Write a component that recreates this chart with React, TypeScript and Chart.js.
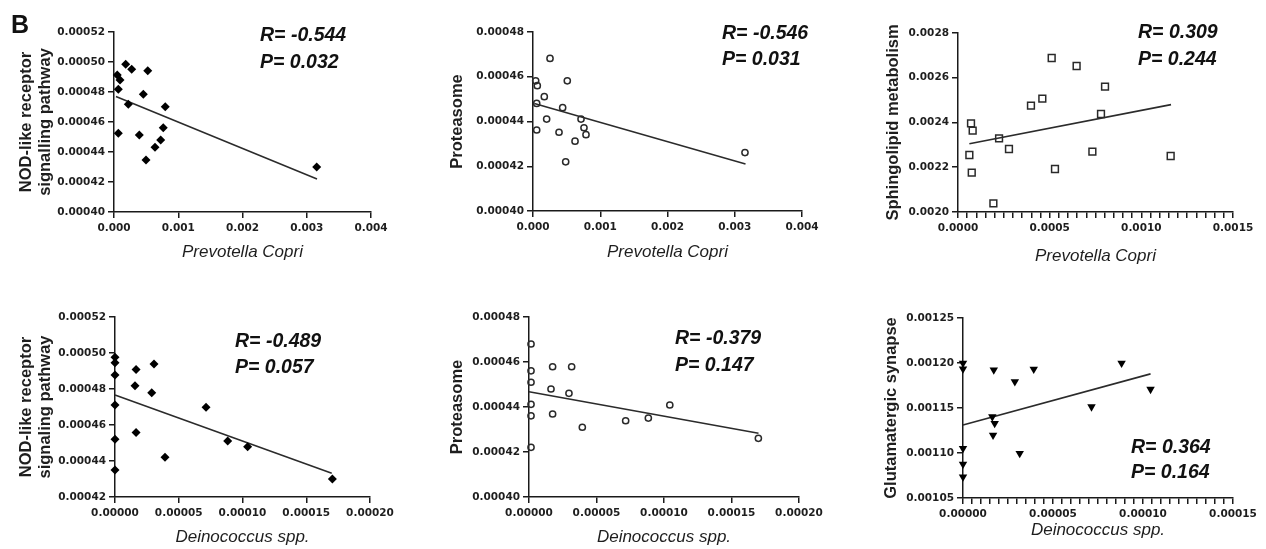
import React, { useEffect, useRef } from 'react';
import { Chart, registerables } from 'chart.js';

Chart.register(...registerables);

// ---------------- DATA ----------------
// Panel 1: Prevotella copri vs NOD-like receptor signalling pathway
const PC_NOD_X = [0.000051, 0.000093, 0.000067, 0.000182, 0.000275, 0.000525, 0.000456, 0.000223, 0.000798, 0.000067, 0.000394, 0.000767, 0.000727, 0.000638, 0.000498, 0.003155];
const PC_NOD_Y = [0.0004913, 0.000488, 0.0004818, 0.0004985, 0.0004951, 0.0004942, 0.0004785, 0.0004718, 0.0004702, 0.0004525, 0.0004513, 0.0004562, 0.000448, 0.0004431, 0.0004347, 0.00043];
const PC_NOD_FIT_X = [0.00003, 0.00316];
const PC_NOD_FIT_Y = [0.000477, 0.000422];
const PC_NOD_X_TICKS = ['0.000', '0.001', '0.002', '0.003', '0.004'];
const PC_NOD_Y_TICKS = ['0.00040', '0.00042', '0.00044', '0.00046', '0.00048', '0.00050', '0.00052'];

// Panel 2: Prevotella copri vs Proteasome
const PC_PROT_X = [0.000253, 0.00004, 0.000064, 0.00051, 0.000168, 0.000055, 0.000441, 0.000203, 0.000714, 0.000758, 0.000788, 0.000055, 0.000387, 0.000625, 0.000486, 0.003152];
const PC_PROT_Y = [0.0004682, 0.0004582, 0.000456, 0.0004582, 0.0004511, 0.0004481, 0.0004462, 0.0004411, 0.0004411, 0.0004372, 0.0004341, 0.0004362, 0.0004352, 0.0004312, 0.000422, 0.0004261];
const PC_PROT_FIT_X = [0.00002, 0.00316];
const PC_PROT_FIT_Y = [0.000448, 0.000421];
const PC_PROT_X_TICKS = ['0.000', '0.001', '0.002', '0.003', '0.004'];
const PC_PROT_Y_TICKS = ['0.00040', '0.00042', '0.00044', '0.00046', '0.00048'];

// Panel 3: Prevotella copri vs Sphingolipid metabolism
const PC_SPH_X = [0.000071, 0.00008, 0.000062, 0.000075, 0.000193, 0.000224, 0.000278, 0.000398, 0.00046, 0.000511, 0.000529, 0.000647, 0.000802, 0.00078, 0.000733, 0.00116];
const PC_SPH_Y = [0.0023964, 0.0023634, 0.0022547, 0.0021757, 0.0020389, 0.0023294, 0.0022816, 0.0024751, 0.0025064, 0.0026883, 0.0021922, 0.0026525, 0.00256, 0.002438, 0.00227, 0.0022503];
const PC_SPH_FIT_X = [0.000062, 0.001162];
const PC_SPH_FIT_Y = [0.0023053, 0.00248];
const PC_SPH_X_TICKS = ['0.0000', '0.0005', '0.0010', '0.0015'];
const PC_SPH_X_MINOR_STEP = 0.00005;
const PC_SPH_Y_TICKS = ['0.0020', '0.0022', '0.0024', '0.0026', '0.0028'];

// Panel 4: Deinococcus spp. vs NOD-like receptor signaling pathway
const DC_NOD_X = [0, 0, 0, 0, 0, 0, 0.0000165, 0.0000157, 0.0000165, 0.0000288, 0.0000306, 0.0000392, 0.0000714, 0.0000884, 0.000104, 0.0001705];
const DC_NOD_Y = [0.0004976, 0.0004946, 0.0004878, 0.0004711, 0.0004521, 0.000435, 0.0004909, 0.0004818, 0.0004559, 0.0004779, 0.0004939, 0.0004421, 0.0004698, 0.0004511, 0.0004479, 0.00043];
const DC_NOD_FIT_X = [0, 0.00017];
const DC_NOD_FIT_Y = [0.0004767, 0.0004332];
const DC_NOD_X_TICKS = ['0.00000', '0.00005', '0.00010', '0.00015', '0.00020'];
const DC_NOD_Y_TICKS = ['0.00042', '0.00044', '0.00046', '0.00048', '0.00050', '0.00052'];

// Panel 5: Deinococcus spp. vs Proteasome
const DC_PROT_X = [0.0000015, 0.0000015, 0.0000015, 0.0000015, 0.0000015, 0.0000015, 0.0000175, 0.0000316, 0.0000163, 0.0000296, 0.0000175, 0.0000395, 0.0000716, 0.0000884, 0.0001043, 0.0001699];
const DC_PROT_Y = [0.000468, 0.0004561, 0.000451, 0.0004412, 0.0004361, 0.0004221, 0.0004579, 0.0004579, 0.000448, 0.0004461, 0.0004369, 0.000431, 0.0004339, 0.0004351, 0.0004409, 0.0004261];
const DC_PROT_FIT_X = [0, 0.00017];
const DC_PROT_FIT_Y = [0.0004468, 0.0004283];
const DC_PROT_X_TICKS = ['0.00000', '0.00005', '0.00010', '0.00015', '0.00020'];
const DC_PROT_Y_TICKS = ['0.00040', '0.00042', '0.00044', '0.00046', '0.00048'];

// Panel 6: Deinococcus spp. vs Glutamatergic synapse
const DC_GLU_X = [0, 0, 0, 0, 0, 0.0000171, 0.0000288, 0.0000393, 0.0000163, 0.0000176, 0.0000167, 0.0000315, 0.0000714, 0.0000881, 0.0001042];
const DC_GLU_Y = [0.0011998, 0.0011935, 0.0011051, 0.0010876, 0.0010734, 0.0011924, 0.0011793, 0.0011931, 0.0011403, 0.0011329, 0.0011199, 0.0010995, 0.0011514, 0.0011998, 0.0011708];
const DC_GLU_FIT_X = [0, 0.0001042];
const DC_GLU_FIT_Y = [0.001131, 0.0011879];
const DC_GLU_X_TICKS = ['0.00000', '0.00005', '0.00010', '0.00015'];
const DC_GLU_X_MINOR_STEP = 0.000005;
const DC_GLU_Y_TICKS = ['0.00105', '0.00110', '0.00115', '0.00120', '0.00125'];

// Statistics text
const STATS = [
  ['R= -0.544', 'P= 0.032'],
  ['R= -0.546', 'P= 0.031'],
  ['R= 0.309', 'P= 0.244'],
  ['R= -0.489', 'P= 0.057'],
  ['R= -0.379', 'P= 0.147'],
  ['R= 0.364', 'P= 0.164'],
];

// ---------------- STYLE ----------------
const AXIS = '#1a1a1a';
const TEXT = '#1e1e1e';
const SANS = "'Liberation Sans', Arial, sans-serif";
const TICK_FONT = { family: "'DejaVu Sans', sans-serif", size: 10.5, weight: 'bold' as const };
const YTITLE_FONT = { family: SANS, size: 16.5, weight: 'bold' as const, lineHeight: 1.15 };
const XTITLE_FONT = { family: SANS, size: 17, style: 'italic' as const, weight: 'normal' as const, lineHeight: 1.2 };
const STAT_FONT = `italic bold 19.5px ${SANS}`;

type Marker = {
  pointStyle: string;
  radius: number;
  rotation: number;
  fill: string;
  stroke: string;
  strokeWidth: number;
};

const DIAMOND: Marker = { pointStyle: 'rectRot', radius: 4.5, rotation: 0, fill: '#000', stroke: '#000', strokeWidth: 0 };
const CIRCLE: Marker = { pointStyle: 'circle', radius: 3.1, rotation: 0, fill: 'rgba(0,0,0,0)', stroke: '#2a2a2a', strokeWidth: 1.5 };
const SQUARE: Marker = { pointStyle: 'rect', radius: 4.8, rotation: 0, fill: 'rgba(0,0,0,0)', stroke: '#2a2a2a', strokeWidth: 1.5 };
const TRIANGLE: Marker = { pointStyle: 'triangle', radius: 4.9, rotation: 180, fill: '#000', stroke: '#000', strokeWidth: 0 };

type TextItem = { text: string; x: number; y: number; font: string };

type PanelSpec = {
  box: { left: number; top: number; width: number; height: number };
  padTop: number;
  padRight: number;
  yWidth: number;
  xHeight: number;
  xTicks: string[];
  xMinorStep?: number;
  yTicks: string[];
  xTitle: string;
  yTitle: string | string[];
  yTitlePad: number;
  xTitlePad: number;
  px: number[];
  py: number[];
  fx: number[];
  fy: number[];
  marker: Marker;
  texts: TextItem[];
};

function stat(i: number, boxLeft: number, boxTop: number, x: number, yR: number, yP: number): TextItem[] {
  return [
    { text: STATS[i][0], x: x - boxLeft, y: yR - boxTop, font: STAT_FONT },
    { text: STATS[i][1], x: x - boxLeft, y: yP - boxTop, font: STAT_FONT },
  ];
}

const PANELS: PanelSpec[] = [
  {
    box: { left: 0, top: 0, width: 400, height: 270 },
    padTop: 32, padRight: 29, yWidth: 114, xHeight: 58,
    xTicks: PC_NOD_X_TICKS, yTicks: PC_NOD_Y_TICKS,
    xTitle: 'Prevotella Copri', yTitle: ['NOD-like receptor', 'signalling pathway'],
    yTitlePad: 17, xTitlePad: 7.8,
    px: PC_NOD_X, py: PC_NOD_Y, fx: PC_NOD_FIT_X, fy: PC_NOD_FIT_Y, marker: DIAMOND,
    texts: [{ text: 'B', x: 11, y: 33, font: `bold 25px ${SANS}` }, ...stat(0, 0, 0, 260, 40.5, 67.5)],
  },
  {
    box: { left: 410, top: 0, width: 420, height: 270 },
    padTop: 32, padRight: 28, yWidth: 123, xHeight: 59,
    xTicks: PC_PROT_X_TICKS, yTicks: PC_PROT_Y_TICKS,
    xTitle: 'Prevotella Copri', yTitle: 'Proteasome',
    yTitlePad: 38, xTitlePad: 7.8,
    px: PC_PROT_X, py: PC_PROT_Y, fx: PC_PROT_FIT_X, fy: PC_PROT_FIT_Y, marker: CIRCLE,
    texts: stat(1, 410, 0, 722, 39.3, 65),
  },
  {
    box: { left: 840, top: 0, width: 426, height: 270 },
    padTop: 33, padRight: 33, yWidth: 118, xHeight: 58,
    xTicks: PC_SPH_X_TICKS, xMinorStep: PC_SPH_X_MINOR_STEP, yTicks: PC_SPH_Y_TICKS,
    xTitle: 'Prevotella Copri', yTitle: 'Sphingolipid metabolism',
    yTitlePad: 44, xTitlePad: 3.8,
    px: PC_SPH_X, py: PC_SPH_Y, fx: PC_SPH_FIT_X, fy: PC_SPH_FIT_Y, marker: SQUARE,
    texts: stat(2, 840, 0, 1138, 38.3, 65),
  },
  {
    box: { left: 0, top: 275, width: 400, height: 274 },
    padTop: 42, padRight: 30, yWidth: 115, xHeight: 52,
    xTicks: DC_NOD_X_TICKS, yTicks: DC_NOD_Y_TICKS,
    xTitle: 'Deinococcus spp.', yTitle: ['NOD-like receptor', 'signaling pathway'],
    yTitlePad: 17, xTitlePad: 1.8,
    px: DC_NOD_X, py: DC_NOD_Y, fx: DC_NOD_FIT_X, fy: DC_NOD_FIT_Y, marker: DIAMOND,
    texts: stat(3, 0, 275, 235, 346.7, 373.3),
  },
  {
    box: { left: 410, top: 275, width: 420, height: 274 },
    padTop: 42, padRight: 31, yWidth: 119, xHeight: 52,
    xTicks: DC_PROT_X_TICKS, yTicks: DC_PROT_Y_TICKS,
    xTitle: 'Deinococcus spp.', yTitle: 'Proteasome',
    yTitlePad: 37.5, xTitlePad: 1.8,
    px: DC_PROT_X, py: DC_PROT_Y, fx: DC_PROT_FIT_X, fy: DC_PROT_FIT_Y, marker: CIRCLE,
    texts: stat(4, 410, 275, 675, 344, 370.7),
  },
  {
    box: { left: 840, top: 275, width: 426, height: 274 },
    padTop: 43, padRight: 33, yWidth: 123, xHeight: 51,
    xTicks: DC_GLU_X_TICKS, xMinorStep: DC_GLU_X_MINOR_STEP, yTicks: DC_GLU_Y_TICKS,
    xTitle: 'Deinococcus spp.', yTitle: 'Glutamatergic synapse',
    yTitlePad: 42, xTitlePad: 8.8,
    px: DC_GLU_X, py: DC_GLU_Y, fx: DC_GLU_FIT_X, fy: DC_GLU_FIT_Y, marker: TRIANGLE,
    texts: stat(5, 840, 275, 1131, 452.7, 478.3),
  },
];

// ---------------- HELPERS ----------------
function tickValues(labels: string[], minorStep?: number): number[] {
  const majors = labels.map(Number);
  if (!minorStep) return majors;
  const min = majors[0];
  const max = majors[majors.length - 1];
  const n = Math.round((max - min) / minorStep);
  const out: number[] = [];
  for (let i = 0; i <= n; i++) out.push(Number((min + i * minorStep).toFixed(12)));
  return out;
}

function labelFor(labels: string[], value: number): string {
  const majors = labels.map(Number);
  const span = Math.abs(majors[majors.length - 1] - majors[0]);
  for (let i = 0; i < labels.length; i++) {
    if (Math.abs(majors[i] - value) < span * 1e-6) return labels[i];
  }
  return '';
}

function makeTextPlugin(items: TextItem[]) {
  return {
    id: 'panelText',
    afterDraw(chart: any) {
      const ctx = chart.ctx as CanvasRenderingContext2D;
      ctx.save();
      ctx.fillStyle = '#111';
      ctx.textAlign = 'left';
      ctx.textBaseline = 'alphabetic';
      for (const it of items) {
        ctx.font = it.font;
        ctx.fillText(it.text, it.x, it.y);
      }
      ctx.restore();
    },
  };
}

function buildConfig(s: PanelSpec): any {
  const xVals = tickValues(s.xTicks, s.xMinorStep);
  const yVals = tickValues(s.yTicks);
  const xNums = s.xTicks.map(Number);
  const yNums = s.yTicks.map(Number);
  const grid = { display: true, drawOnChartArea: false, drawTicks: true, tickLength: 6, color: AXIS, lineWidth: 1.5 };
  const border = { display: true, color: AXIS, width: 1.5 };
  return {
    type: 'scatter',
    data: {
      datasets: [
        {
          data: s.px.map((x, i) => ({ x, y: s.py[i] })),
          pointStyle: s.marker.pointStyle,
          pointRadius: s.marker.radius,
          pointHoverRadius: s.marker.radius,
          pointRotation: s.marker.rotation,
          backgroundColor: s.marker.fill,
          borderColor: s.marker.stroke,
          borderWidth: s.marker.strokeWidth,
          clip: false,
        },
        {
          data: s.fx.map((x, i) => ({ x, y: s.fy[i] })),
          showLine: true,
          pointRadius: 0,
          borderColor: '#2b2b2b',
          borderWidth: 1.6,
          clip: false,
        },
      ],
    },
    options: {
      animation: false,
      responsive: false,
      events: [],
      layout: { padding: { left: 0, top: s.padTop, right: s.padRight, bottom: 0 } },
      plugins: { legend: { display: false }, tooltip: { enabled: false } },
      scales: {
        x: {
          type: 'linear',
          position: 'bottom',
          min: xNums[0],
          max: xNums[xNums.length - 1],
          afterBuildTicks: (scale: any) => {
            scale.ticks = xVals.map((v) => ({ value: v }));
          },
          afterFit: (scale: any) => {
            scale.height = s.xHeight;
          },
          ticks: {
            autoSkip: false,
            maxRotation: 0,
            minRotation: 0,
            padding: 4,
            color: TEXT,
            font: TICK_FONT,
            callback: (v: number) => labelFor(s.xTicks, v),
          },
          grid,
          border,
          title: { display: true, text: s.xTitle, color: TEXT, font: XTITLE_FONT, padding: { top: 0, bottom: s.xTitlePad } },
        },
        y: {
          type: 'linear',
          position: 'left',
          min: yNums[0],
          max: yNums[yNums.length - 1],
          afterBuildTicks: (scale: any) => {
            scale.ticks = yVals.map((v) => ({ value: v }));
          },
          afterFit: (scale: any) => {
            scale.width = s.yWidth;
          },
          ticks: {
            autoSkip: false,
            padding: 3,
            color: TEXT,
            font: TICK_FONT,
            callback: (v: number) => labelFor(s.yTicks, v),
          },
          grid,
          border,
          title: { display: true, text: s.yTitle, color: TEXT, font: YTITLE_FONT, padding: { top: s.yTitlePad, bottom: 0 } },
        },
      },
    },
    plugins: [makeTextPlugin(s.texts)],
  };
}

function Panel({ spec }: { spec: PanelSpec }) {
  const ref = useRef<HTMLCanvasElement>(null);
  useEffect(() => {
    const canvas = ref.current;
    if (!canvas) return;
    const chart = new Chart(canvas, buildConfig(spec));
    return () => chart.destroy();
  }, [spec]);
  const { left, top, width, height } = spec.box;
  return (
    <div style={{ position: 'absolute', left, top, width, height }}>
      <canvas ref={ref} width={width} height={height} style={{ display: 'block', width, height }} />
    </div>
  );
}

export default function App() {
  return (
    <div style={{ position: 'absolute', left: 0, top: 0, width: 1266, height: 549, background: '#fff', overflow: 'hidden' }}>
      {PANELS.map((p, i) => (
        <Panel key={i} spec={p} />
      ))}
    </div>
  );
}
